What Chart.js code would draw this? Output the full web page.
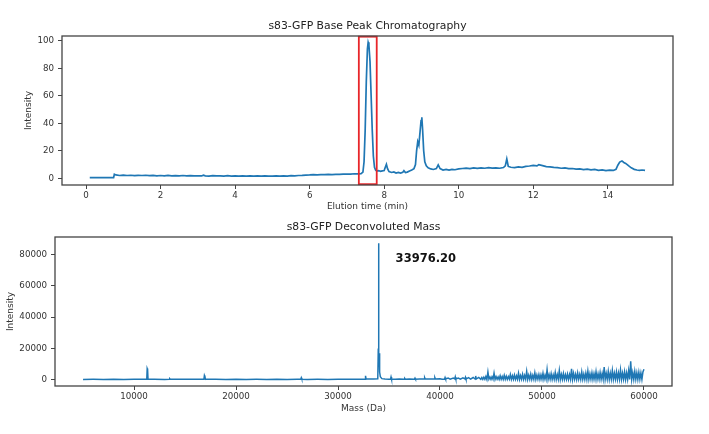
<!DOCTYPE html>
<html><head><meta charset="utf-8">
<script src="https://cdn.jsdelivr.net/npm/chart.js@4/dist/chart.umd.min.js"></script>
<style>
html,body{margin:0;padding:0;background:#fff;width:709px;height:434px;overflow:hidden}
canvas{position:absolute;left:0}
#c1{top:0}
#c2{top:217px}
</style></head><body>
<canvas id="c1" width="709" height="217" style="width:709px;height:217px"></canvas>
<canvas id="c2" width="709" height="217" style="width:709px;height:217px"></canvas>
<script>
// ---------- DATA ----------
const chromTitle = 's83-GFP Base Peak Chromatography';
const chromXLabel = 'Elution time (min)';
const massTitle = 's83-GFP Deconvoluted Mass';
const massXLabel = 'Mass (Da)';
const yLabel = 'Intensity';

const chromXTicks = [0, 2, 4, 6, 8, 10, 12, 14];
const chromYTicks = [0, 20, 40, 60, 80, 100];
const massXTicks = [10000, 20000, 30000, 40000, 50000, 60000];
const massYTicks = [0, 20000, 40000, 60000, 80000];

// [elution time (min), intensity]
const chromPoints = [
[0.10,0.4],[0.25,0.5],[0.40,0.4],[0.55,0.5],[0.74,0.5],[0.76,2.9],[0.80,2.4],[0.90,2.0],[1.00,2.3],[1.10,2.0],
[1.20,2.2],[1.30,1.9],[1.40,2.1],[1.50,2.0],[1.60,2.2],[1.70,1.9],[1.80,2.1],[1.90,1.8],[2.00,2.0],[2.10,1.8],
[2.20,2.1],[2.30,1.8],[2.40,1.9],[2.50,1.7],[2.60,2.0],[2.70,1.7],[2.80,1.9],[2.90,1.7],[3.00,1.8],[3.10,1.7],
[3.15,2.3],[3.20,1.8],[3.30,1.6],[3.40,1.9],[3.50,1.7],[3.60,1.8],[3.70,1.6],[3.80,1.9],[3.90,1.6],[4.00,1.8],
[4.10,1.6],[4.20,1.7],[4.30,1.5],[4.40,1.8],[4.50,1.6],[4.60,1.7],[4.70,1.5],[4.80,1.7],[4.90,1.6],[5.00,1.5],
[5.10,1.7],[5.20,1.6],[5.30,1.8],[5.40,1.6],[5.50,1.9],[5.60,1.8],[5.70,2.0],[5.80,2.1],[5.90,2.3],[6.00,2.4],
[6.10,2.6],[6.20,2.5],[6.30,2.7],[6.40,2.6],[6.50,2.8],[6.60,2.7],[6.70,2.9],[6.80,2.8],[6.90,3.0],[7.00,3.1],
[7.10,3.0],[7.20,3.3],[7.30,3.2],[7.38,3.4],[7.43,4.5],[7.46,12],[7.49,35],[7.52,70],[7.55,94],[7.57,98.9],
[7.59,97],[7.62,85],[7.65,60],[7.68,35],[7.71,16],[7.74,8],[7.77,6],[7.80,5.2],[7.85,5.6],[7.90,5.0],
[7.95,5.4],[8.00,5.6],[8.03,8],[8.06,10.2],[8.09,7],[8.13,4.8],[8.20,4.2],[8.26,4.6],[8.32,3.8],[8.38,4.2],
[8.44,3.8],[8.50,4.4],[8.53,5.5],[8.57,4.2],[8.62,4.5],[8.68,5.3],[8.74,6.0],[8.80,7.0],[8.84,10],[8.87,20],[8.90,26.6],
[8.93,24],[8.96,33],[8.99,42],[9.01,44.4],[9.03,36],[9.06,20],[9.09,12],[9.13,9],[9.18,7.6],[9.25,6.8],
[9.32,6.4],[9.40,7.0],[9.45,9.7],[9.50,7.0],[9.58,6.0],[9.66,6.4],[9.74,5.9],[9.82,6.5],[9.90,6.2],[10.0,6.8],
[10.1,7.1],[10.2,7.4],[10.3,7.0],[10.4,7.5],[10.5,7.2],[10.6,7.6],[10.7,7.3],[10.8,7.7],[10.9,7.4],[11.0,7.6],
[11.1,7.3],[11.2,7.8],[11.25,9],[11.29,14],[11.33,8.6],[11.40,8.0],[11.50,7.7],[11.60,8.3],[11.70,7.9],[11.80,8.6],
[11.90,8.9],[12.00,9.4],[12.10,9.0],[12.15,9.9],[12.25,9.2],[12.35,8.5],[12.45,8.3],[12.55,7.9],[12.65,7.7],[12.75,7.3],
[12.85,7.5],[12.95,7.0],[13.05,7.1],[13.15,6.6],[13.25,6.8],[13.35,6.3],[13.45,6.6],[13.55,6.1],[13.65,6.4],[13.75,5.8],
[13.85,6.1],[13.95,5.6],[14.05,5.9],[14.15,5.7],[14.22,6.5],[14.27,9.5],[14.32,11.8],[14.38,12.6],[14.43,11.5],[14.48,10.8],
[14.53,9.7],[14.58,8.6],[14.63,7.6],[14.71,6.5],[14.78,6.0],[14.85,5.7],[14.92,6.0],[15.00,5.8]
];

// highlighted elution window [tStart, tEnd, yLow, yHigh]
const highlightWindow = [7.32, 7.80, -4.3, 103.0];

// [mass (Da), intensity]
const massPoints = [
[5000,300],[6000,350],[7000,300],[8000,400],[9000,300],[10000,350],[11000,400],[11250,400],[11290,7200],[11330,6500],
[11370,400],[12000,350],[13000,300],[13450,350],[13500,700],[13550,350],[14000,350],[15000,400],[16000,350],[16850,400],
[16900,2800],[16950,2000],[17000,400],[18000,350],[19000,300],[20000,400],[21000,300],[22000,350],[23000,300],[24000,400],
[25000,300],[26000,350],[26350,350],[26400,1300],[26450,350],[27000,300],[28000,350],[29000,300],[30000,400],[31000,350],
[32000,450],[32650,450],[32700,2600],[32750,500],[33500,500],[33900,700],[33950,20000],[33976,87000],[33990,60000],[34010,15000],
[34040,17000],[34080,5000],[34150,2000],[34300,800],[34600,500],[35000,450],[35150,450],[35200,1800],[35250,450],[35600,400],
[36000,500],[36500,450],[36550,900],[36600,450],[37000,500],[37500,450],[37550,1100],[37600,450],[38000,600],[38450,500],
[38500,1300],[38550,500],[39000,600],[39450,500],[39500,1400],[39550,600],[40000,700],[40200,400],[40450,500],[40500,1500],
[40550,600],[40800,1100],[41000,500],[41300,1200],[41450,600],[41500,1900],[41550,600],[41800,1200],[42000,500],[42250,1300],
[42450,600],[42500,1600],[42550,500],[42800,1400],[43000,500],[43250,1500],[43450,500],[43500,2500],[43550,500],[43800,1600],
[44000,400],[44100,1500],[44200,300],[44300,1700],[44400,400],[44500,2200],[44600,300],[44700,5000],
[44800,400],[44900,1800],[45000,300],[45100,2000],[45200,400],[45300,4300],[45400,300],[45500,2100],[45600,400],[45700,1900],
[45800,300],[45900,2600],[46000,400],[46100,2200],[46200,300],[46300,2900],[46400,400],[46500,2400],[46600,300],[46700,2100],
[46800,400],[46900,3400],[47000,300],[47100,2600],[47200,400],[47300,3100],[47400,300],[47500,2500],[47600,400],[47700,4200],
[47800,300],[47900,2700],[48000,400],[48100,3600],[48200,300],[48300,2800],[48400,400],[48500,5400],[48600,300],[48700,3000],
[48800,400],[48900,3700],[49000,300],[49100,2900],[49200,400],[49300,4500],[49400,300],[49500,3100],[49600,400],[49700,3400],
[49800,300],[49900,3200],[50000,400],[50100,4200],[50200,300],[50300,3000],[50400,400],[50500,6500],[50600,300],[50700,3300],
[50800,400],[50900,3900],[51000,300],[51100,3200],[51200,400],[51300,4700],[51400,300],[51500,3400],[51600,400],[51700,6000],
[51800,300],[51900,3500],[52000,400],[52100,4000],[52200,300],[52300,3300],[52400,400],[52500,3700],[52600,300],[52700,3400],
[52800,400],[52900,7000],[53000,300],[53100,4100],[53200,400],[53300,3600],[53400,300],[53500,4400],[53600,400],[53700,3500],
[53800,300],[53900,5000],[54000,400],[54100,3700],[54200,300],[54300,4200],[54400,400],[54500,5600],[54600,300],[54700,3800],
[54800,400],[54900,4500],[55000,300],[55100,3900],[55200,400],[55300,5200],[55400,300],[55500,3800],[55600,400],[55700,4700],
[55800,300],[55900,4000],[56000,400],[56100,8200],[56200,300],[56300,4100],[56400,400],[56500,5400],[56600,300],[56700,4300],
[56800,400],[56900,6000],[57000,300],[57100,4200],[57200,400],[57300,5000],[57400,300],[57500,4400],[57600,400],[57700,6300],
[57800,300],[57900,4300],[58000,400],[58100,5100],[58200,300],[58300,4500],[58400,400],[58500,5900],[58600,300],[58700,11800],
[58800,400],[58900,4600],[59000,300],[59100,5400],[59200,400],[59300,4500],[59400,300],[59500,4900],[59600,400],[59700,4400],
[59800,300],[59900,5100],[60000,6800]
];

const peakLabel = {x: 35650, y: 77000, text: '33976.20'};

// ---------- STYLE / RENDER ----------
const FONT = 'DejaVu Sans';
const LINE = '#1f77b4';
Chart.defaults.font.family = FONT;
Chart.defaults.color = '#333';

const framePlugin = {
  id: 'frame',
  afterDraw(chart) {
    const {ctx, chartArea: a} = chart;
    ctx.save();
    ctx.strokeStyle = '#444';
    ctx.lineWidth = 1.3;
    ctx.strokeRect(a.left, a.top, a.right - a.left, a.bottom - a.top);
    ctx.restore();
  }
};

const windowPlugin = {
  id: 'window',
  afterDatasetsDraw(chart) {
    const xs = chart.scales.x, ys = chart.scales.y, ctx = chart.ctx;
    const x1 = xs.getPixelForValue(highlightWindow[0]);
    const x2 = xs.getPixelForValue(highlightWindow[1]);
    const y1 = ys.getPixelForValue(highlightWindow[3]);
    const y2 = ys.getPixelForValue(highlightWindow[2]);
    ctx.save();
    ctx.strokeStyle = '#e8262a';
    ctx.lineWidth = 1.8;
    ctx.strokeRect(x1, y1, x2 - x1, y2 - y1);
    ctx.restore();
  }
};

const labelPlugin = {
  id: 'peaklabel',
  afterDatasetsDraw(chart) {
    const ctx = chart.ctx;
    const x = chart.scales.x.getPixelForValue(peakLabel.x);
    const y = chart.scales.y.getPixelForValue(peakLabel.y);
    ctx.save();
    ctx.font = 'bold 11.5px "' + FONT + '"';
    ctx.fillStyle = '#111';
    ctx.textAlign = 'left';
    ctx.textBaseline = 'middle';
    ctx.fillText(peakLabel.text, x, y);
    ctx.restore();
  }
};

function makeChart(canvasId, pts, cfg) {
  return new Chart(document.getElementById(canvasId), {
    type: 'line',
    data: {
      datasets: [{
        data: pts.map(p => ({x: p[0], y: p[1]})),
        borderColor: LINE,
        borderWidth: cfg.lw,
        pointRadius: 0,
        tension: 0,
        fill: false
      }]
    },
    options: {
      responsive: false,
      animation: false,
      events: [],
      layout: {padding: cfg.padding},
      plugins: {legend: {display: false}, tooltip: {enabled: false}, title: {display: false}},
      scales: {
        x: {
          type: 'linear', position: 'bottom', min: cfg.xMin, max: cfg.xMax,
          afterBuildTicks: s => { s.ticks = cfg.xTicks.map(v => ({value: v})); },
          afterFit: s => { s.height = cfg.xAxisH; },
          grid: {display: true, drawOnChartArea: false, drawTicks: true, tickLength: 4, color: '#444', lineWidth: 1},
          border: {display: false},
          ticks: {font: {size: 8.7}, color: '#333', padding: 2, maxRotation: 0, autoSkip: false,
                  callback: v => String(v)},
          title: {display: true, text: cfg.xLabel, font: {size: 9}, color: '#333',
                  padding: {top: 0, bottom: cfg.xTitlePad}}
        },
        top: {
          type: 'linear', position: 'top', min: 0, max: 1,
          afterFit: s => { s.height = cfg.topH; },
          grid: {display: false}, border: {display: false},
          ticks: {display: false},
          title: {display: true, text: cfg.title, font: {size: 10.8}, color: '#222',
                  padding: {top: cfg.titlePad, bottom: 0}}
        },
        y: {
          type: 'linear', position: 'left', min: cfg.yMin, max: cfg.yMax,
          afterBuildTicks: s => { s.ticks = cfg.yTicks.map(v => ({value: v})); },
          afterFit: s => { s.width = cfg.yAxisW; },
          grid: {display: true, drawOnChartArea: false, drawTicks: true, tickLength: 4, color: '#444', lineWidth: 1},
          border: {display: false},
          ticks: {font: {size: 8.7}, color: '#333', padding: 4, autoSkip: false,
                  callback: v => String(v)},
          title: {display: true, text: yLabel, font: {size: 9}, color: '#333',
                  padding: {top: cfg.yTitlePad, bottom: 0}}
        }
      }
    },
    plugins: cfg.plugins
  });
}

makeChart('c1', chromPoints, {
  lw: 1.7,
  padding: {left: 0, right: 36, top: 0, bottom: 2},
  xMin: -0.645, xMax: 15.75, yMin: -4.9, yMax: 103.5,
  xTicks: chromXTicks, yTicks: chromYTicks,
  xAxisH: 30, topH: 36, yAxisW: 62,
  xLabel: chromXLabel, title: chromTitle,
  xTitlePad: 2.9, titlePad: 19.7, yTitlePad: 23.4,
  plugins: [windowPlugin, framePlugin]
});

makeChart('c2', massPoints, {
  lw: 1.5,
  padding: {left: 0, right: 37, top: 0, bottom: 8},
  xMin: 2250, xMax: 62750, yMin: -3900, yMax: 91000,
  xTicks: massXTicks, yTicks: massYTicks,
  xAxisH: 40, topH: 20, yAxisW: 55,
  xLabel: massXLabel, title: massTitle,
  xTitlePad: 11.9, titlePad: 3.7, yTitlePad: 5.2,
  plugins: [labelPlugin, framePlugin]
});
</script>
</body></html>
